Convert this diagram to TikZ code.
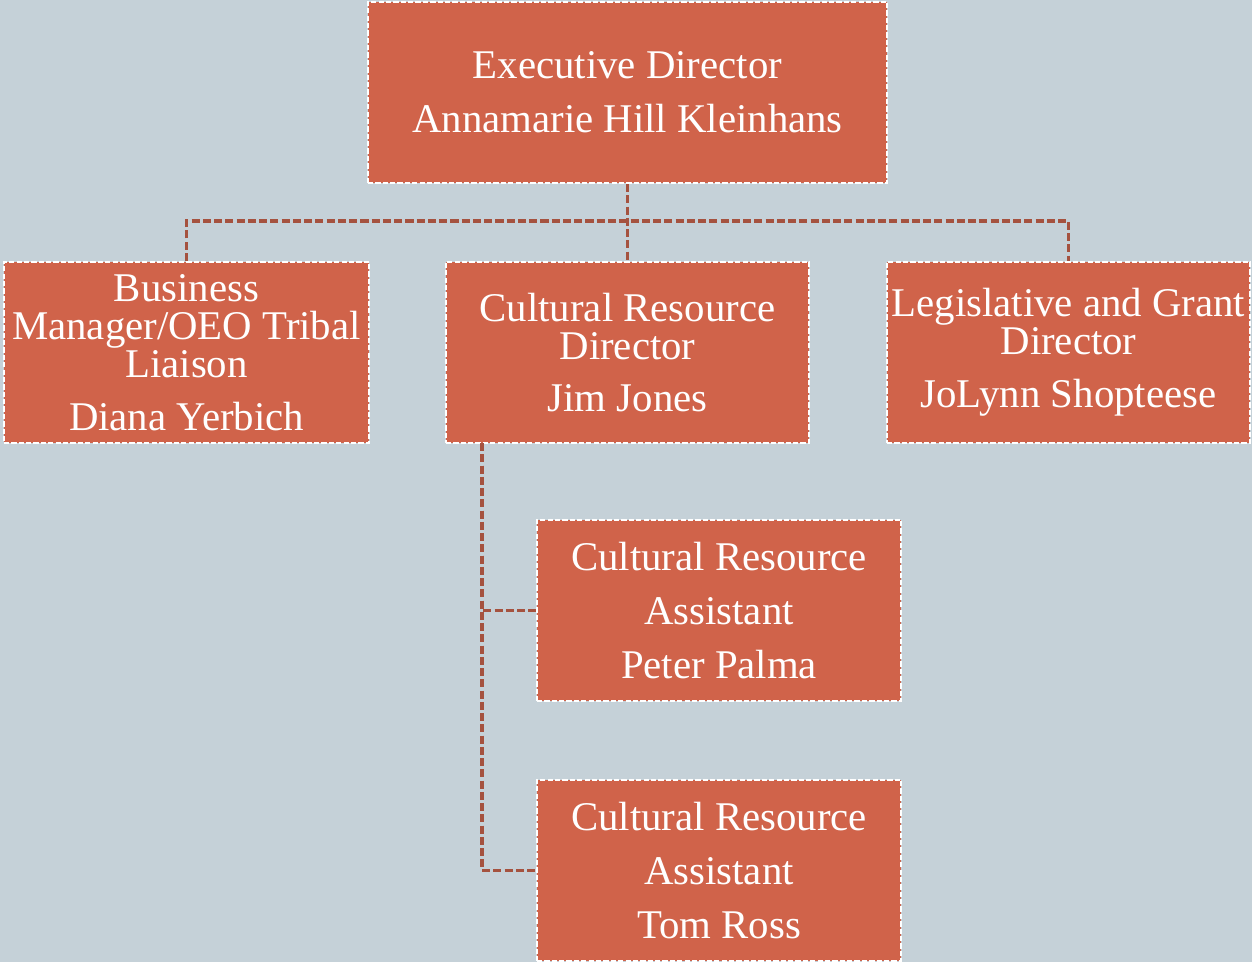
\documentclass[tikz,border=0pt]{standalone}
\usepackage{fontspec}
\setmainfont{Liberation Serif}
\definecolor{bgblue}{HTML}{C5D1D8}
\definecolor{boxred}{HTML}{D0634A}
\definecolor{linkred}{HTML}{A5523F}
\begin{document}
\begin{tikzpicture}[
        x=0.01cm, y=-0.01cm,
        box/.style={rectangle, fill=boxred, draw=white, line width=0.6pt,
            dash pattern=on 1.5pt off 0.6pt, text=white, align=center,
            inner sep=0pt, minimum width=3.63cm, minimum height=1.81cm,
            font=\fontsize{11.6}{10.8}\selectfont},
        link/.style={draw=linkred, line width=1pt, dash pattern=on 2.3pt off 0.9pt}
    ]
        % Nền
        \fill[bgblue] (0,0) rectangle (1252,962);

        % Các hộp
        \node[box, minimum width=5.19cm] (exec) at (627.5,92.5)
            {Executive Director\\[4.6pt]Annamarie Hill Kleinhans};
        \node[box, minimum width=3.65cm] (biz) at (186.5,352.5)
            {Business\\Manager/OEO Tribal\\Liaison\\[4.2pt]Diana Yerbich};
        \node[box] (crdir) at (627.5,352.5)
            {Cultural Resource\\Director\\[4.2pt]Jim Jones};
        \node[box] (legis) at (1068.5,352.5)
            {Legislative and Grant\\Director\\[4.2pt]JoLynn Shopteese};
        \node[box, minimum width=3.64cm] (asst1) at (719,610.5)
            {Cultural Resource\\[4.6pt]Assistant\\[4.6pt]Peter Palma};
        \node[box, minimum width=3.64cm] (asst2) at (719,870.5)
            {Cultural Resource\\[4.6pt]Assistant\\[4.6pt]Tom Ross};

        % Các liên kết
        \coordinate (bus) at (627.5,221);
        \coordinate (trunk) at (482,443);
        \draw[link] (exec.south) -- (crdir.north);
        \draw[link] (biz.north) |- (bus) -| (legis.north);
        \draw[link] (trunk) |- (asst1.west);
        \draw[link] (trunk) |- (asst2.west);
    \end{tikzpicture}
\end{document}
